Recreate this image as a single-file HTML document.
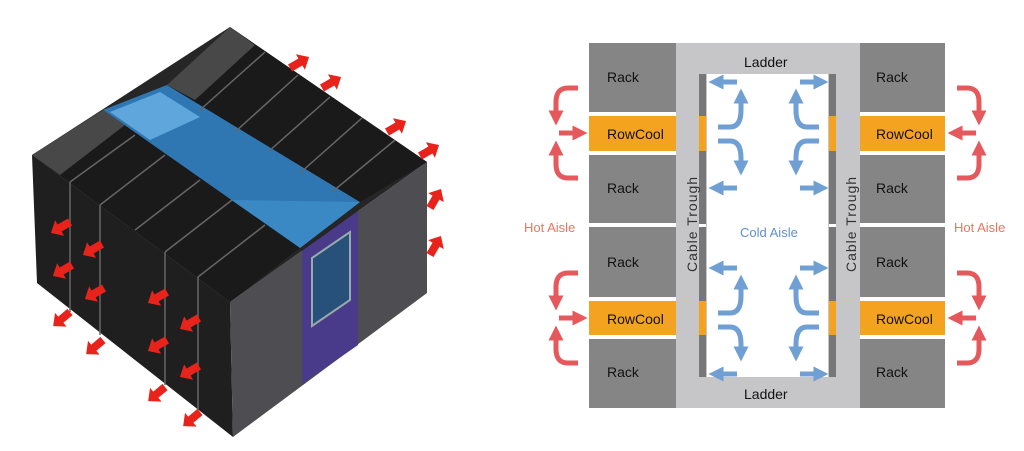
<!DOCTYPE html>
<html><head><meta charset="utf-8"><style>
html,body{margin:0;padding:0;background:#fff;width:1024px;height:451px;overflow:hidden}
svg{display:block}
text{font-family:"Liberation Sans",sans-serif}
</style></head><body>
<svg width="1024" height="451" viewBox="0 0 1024 451" xmlns="http://www.w3.org/2000/svg">
<defs>
<marker id="bh" viewBox="0 0 10 10" refX="5" refY="5" markerWidth="3" markerHeight="3" orient="auto"><path d="M0,0L10,5L0,10z" fill="#6f9fd3"/></marker>
<marker id="rh" viewBox="0 0 10 10" refX="5" refY="5" markerWidth="3" markerHeight="3" orient="auto"><path d="M0,0L10,5L0,10z" fill="#e5585c"/></marker>
<g id="rarr"><path d="M0,-4L12,-4L12,-9L22,0L12,9L12,4L0,4z" fill="#e8231c"/></g>
</defs>
<!-- LEFT isometric pod -->
<polygon points="32,155 230,302 233,437 37,283" fill="#1f1f1f"/>
<polygon points="230,302 427,162 427,293 233,437" fill="#4e4d52"/>
<polygon points="302,250 358,211 358,345 302,384" fill="#4a3a8a"/>
<polygon points="312,258 350,232 350,300 312,326" fill="#27507a" stroke="#9aa" stroke-width="2"/>
<polygon points="32,155 230,27 427,162 230,302" fill="#262626"/>
<polygon points="103,110 167,85 360,202 300,248" fill="#2f77b3"/>
<polygon points="110,112 160,92 200,117 150,140" fill="#5ea6dc"/>
<polygon points="230,200 360,202 300,248" fill="#3a88c4"/>
<polygon points="32,155 103,110 300,248 230,302" fill="#1a1a1a"/>
<polygon points="167,85 230,27 427,162 360,202" fill="#1a1a1a"/>
<polygon points="32,155 103,110 125,125 60,175" fill="#484848"/>
<polygon points="167,85 230,27 255,45 195,100" fill="#484848"/>
<g stroke="#666" stroke-width="1.5">
<line x1="70" y1="182" x2="135" y2="135"/><line x1="100" y1="205" x2="165" y2="155"/><line x1="135" y1="230" x2="200" y2="180"/><line x1="165" y1="252" x2="232" y2="200"/><line x1="198" y1="277" x2="265" y2="225"/>
<line x1="200" y1="110" x2="265" y2="52"/><line x1="235" y1="132" x2="298" y2="75"/><line x1="268" y1="152" x2="330" y2="97"/><line x1="300" y1="173" x2="362" y2="118"/><line x1="332" y1="192" x2="395" y2="140"/>
<line x1="70" y1="182" x2="70" y2="312" /><line x1="100" y1="205" x2="100" y2="335"/><line x1="165" y1="252" x2="165" y2="385"/><line x1="198" y1="277" x2="198" y2="410"/>
</g>
<g>
<use href="#rarr" transform="translate(70,222) rotate(150)"/>
<use href="#rarr" transform="translate(102,244) rotate(150)"/>
<use href="#rarr" transform="translate(72,265) rotate(150)"/>
<use href="#rarr" transform="translate(104,288) rotate(150)"/>
<use href="#rarr" transform="translate(70,312) rotate(140)"/>
<use href="#rarr" transform="translate(103,340) rotate(140)"/>
<use href="#rarr" transform="translate(167,292) rotate(150)"/>
<use href="#rarr" transform="translate(199,318) rotate(150)"/>
<use href="#rarr" transform="translate(167,340) rotate(150)"/>
<use href="#rarr" transform="translate(199,366) rotate(150)"/>
<use href="#rarr" transform="translate(165,387) rotate(140)"/>
<use href="#rarr" transform="translate(200,412) rotate(140)"/>
<use href="#rarr" transform="translate(290,68) rotate(-30)"/>
<use href="#rarr" transform="translate(322,88) rotate(-30)"/>
<use href="#rarr" transform="translate(387,132) rotate(-30)"/>
<use href="#rarr" transform="translate(420,156) rotate(-30)"/>
<use href="#rarr" transform="translate(430,208) rotate(-60)"/>
<use href="#rarr" transform="translate(430,255) rotate(-60)"/>
</g>
<!-- RIGHT plan diagram -->
<rect x="676" y="43" width="184" height="365" fill="#c6c6c8"/>
<rect x="707" y="74" width="121" height="303" fill="#fff"/>
<rect x="699" y="74" width="7" height="303" fill="#777"/>
<rect x="829" y="74" width="7" height="303" fill="#777"/>
<g fill="#f3a320"><rect x="699" y="116" width="7" height="35"/><rect x="829" y="116" width="7" height="35"/><rect x="699" y="301" width="7" height="34"/><rect x="829" y="301" width="7" height="34"/></g>
<g fill="#fff"><rect x="699" y="224" width="7" height="3"/><rect x="829" y="224" width="7" height="3"/></g>
<g font-size="14" fill="#111">
<rect x="589" y="43" width="87" height="69" fill="#858585"/><text x="607" y="82">Rack</text>
<rect x="589" y="116" width="87" height="35" fill="#f3a320"/><text x="607" y="139">RowCool</text>
<rect x="589" y="155" width="87" height="68" fill="#858585"/><text x="607" y="193">Rack</text>
<rect x="589" y="227" width="87" height="70" fill="#858585"/><text x="607" y="267">Rack</text>
<rect x="589" y="301" width="87" height="34" fill="#f3a320"/><text x="607" y="324">RowCool</text>
<rect x="589" y="339" width="87" height="69" fill="#858585"/><text x="607" y="377">Rack</text>
<rect x="860" y="43" width="85" height="69" fill="#858585"/><text x="876" y="82">Rack</text>
<rect x="860" y="116" width="85" height="35" fill="#f3a320"/><text x="876" y="139">RowCool</text>
<rect x="860" y="155" width="85" height="68" fill="#858585"/><text x="876" y="193">Rack</text>
<rect x="860" y="227" width="85" height="70" fill="#858585"/><text x="876" y="267">Rack</text>
<rect x="860" y="301" width="85" height="34" fill="#f3a320"/><text x="876" y="324">RowCool</text>
<rect x="860" y="339" width="85" height="69" fill="#858585"/><text x="876" y="377">Rack</text>
<text x="744" y="67">Ladder</text><text x="744" y="399">Ladder</text>
</g>
<text font-size="14" fill="#333" transform="translate(697,272) rotate(-90)" letter-spacing="1">Cable Trough</text>
<text font-size="14" fill="#333" transform="translate(856,272) rotate(-90)" letter-spacing="1">Cable Trough</text>
<text x="740" y="237" font-size="13" fill="#5f8fcf">Cold Aisle</text>
<text x="524" y="232" font-size="13" fill="#e77760">Hot Aisle</text>
<text x="954" y="232" font-size="13" fill="#e77760">Hot Aisle</text>
<g id="bg" fill="none" stroke="#6f9fd3" stroke-width="5">
<path d="M737,82H716" marker-end="url(#bh)"/>
<path d="M718,127H730Q741,127 741,110V96" marker-end="url(#bh)"/>
<path d="M718,141H730Q741,141 741,158V168" marker-end="url(#bh)"/>
<path d="M737,188H716" marker-end="url(#bh)"/>
<path d="M800,82H821" marker-end="url(#bh)"/>
<path d="M819,127H807Q796,127 796,110V96" marker-end="url(#bh)"/>
<path d="M819,141H807Q796,141 796,158V168" marker-end="url(#bh)"/>
<path d="M800,188H821" marker-end="url(#bh)"/>
</g>
<use href="#bg" transform="translate(0,186)"/>
<g id="rg" fill="none" stroke="#e5585c" stroke-width="5">
<path d="M578,88H568Q556,88 556,102V118" marker-end="url(#rh)"/>
<path d="M559,133H580" marker-end="url(#rh)"/>
<path d="M578,178H568Q556,178 556,164V148" marker-end="url(#rh)"/>
<path d="M957,88H967Q979,88 979,102V118" marker-end="url(#rh)"/>
<path d="M976,133H955" marker-end="url(#rh)"/>
<path d="M957,178H967Q979,178 979,164V148" marker-end="url(#rh)"/>
</g>
<use href="#rg" transform="translate(0,185)"/>
</svg>
</body></html>
